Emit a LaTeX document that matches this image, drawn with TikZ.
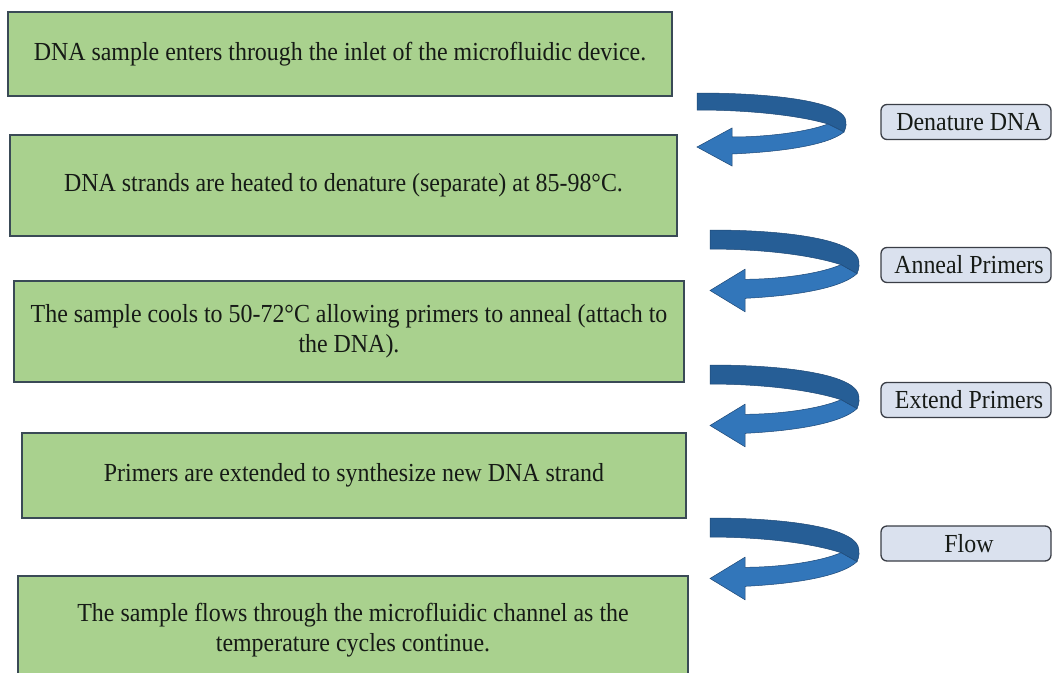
\documentclass[tikz,border=0pt]{standalone}
\usepackage{fontspec}
\setmainfont{Liberation Serif}[FakeStretch=0.92]
\definecolor{stepgreen}{RGB}{169,209,142}
\definecolor{stepedge}{RGB}{58,74,86}
\definecolor{tagfill}{RGB}{218,225,238}
\definecolor{tagedge}{RGB}{58,62,70}
\definecolor{ribbondark}{RGB}{38,94,150}
\definecolor{ribbonlight}{RGB}{50,118,186}
\definecolor{ribbonedge}{RGB}{30,72,118}
\definecolor{inktext}{RGB}{22,26,22}
\tikzset{
  stepbox/.style={draw=stepedge, line width=1.4pt, fill=stepgreen, align=center,
    inner sep=0pt, text=inktext, font=\fontsize{26}{30}\selectfont},
  tagbox/.style={draw=tagedge, line width=1.3pt, fill=tagfill, rounded corners=6pt,
    minimum width=170pt, minimum height=35pt, inner sep=0pt},
  tagtext/.style={font=\fontsize{26}{30}\selectfont, text=inktext, inner sep=0pt},
  curlarrow/.pic={
    % back (upper) half of the ribbon
    \fill[ribbondark, draw=ribbonedge, line width=0.5pt]
      (0,0) .. controls (75,0) and (140,8) .. (148,25)
      .. controls (150,30) and (149,35) .. (147,39)
      -- (131,31) .. controls (100,22) and (50,17) .. (0,17) -- cycle;
    % front (lower) half with the arrow head
    \fill[ribbonlight, draw=ribbonedge, line width=0.5pt]
      (131,31) -- (147,39) .. controls (130,53) and (80,59) .. (35,61)
      -- (35,73) -- (0,54) -- (35,35) -- (35,44)
      .. controls (70,44) and (110,39) .. (131,31) -- cycle;
  }
}
\begin{document}
\begin{tikzpicture}[x=1pt, y=-1pt]
\useasboundingbox (0,0) rectangle (1052,672);
\fill[white] (0,0) rectangle (1052,672);

% process steps
\node[stepbox, minimum width=664pt, minimum height=84pt] (s1) at (340,54)
  {DNA sample enters through the inlet of the microfluidic device.};
\node[stepbox, minimum width=667pt, minimum height=101pt] (s2) at (343.5,185.5)
  {DNA strands are heated to denature (separate) at 85-98°C.};
\node[stepbox, minimum width=670pt, minimum height=101pt] (s3) at (349,331.5)
  {The sample cools to 50-72°C allowing primers to anneal (attach to\\ the DNA).};
\node[stepbox, minimum width=664pt, minimum height=85pt] (s4) at (354,475.5)
  {Primers are extended to synthesize new DNA strand};
\node[stepbox, minimum width=670pt, minimum height=108pt] (s5) at (353,630)
  {The sample flows through the microfluidic channel as the\\ temperature cycles continue.};

% curled arrows between the steps
\pic at (697,93) {curlarrow};
\pic[yscale=1.12] at (710,230) {curlarrow};
\pic[yscale=1.12] at (710,365) {curlarrow};
\pic[yscale=1.12] at (710,518) {curlarrow};

% stage labels
\node[tagbox] (t1) at (966,122) {};
\node[tagtext] at (969,122) {Denature DNA};
\node[tagbox] (t2) at (966,265) {};
\node[tagtext] at (969,265) {Anneal Primers};
\node[tagbox] (t3) at (966,400) {};
\node[tagtext] at (969,400) {Extend Primers};
\node[tagbox] (t4) at (966,543.5) {};
\node[tagtext] at (969,543.5) {Flow};
\end{tikzpicture}
\end{document}
